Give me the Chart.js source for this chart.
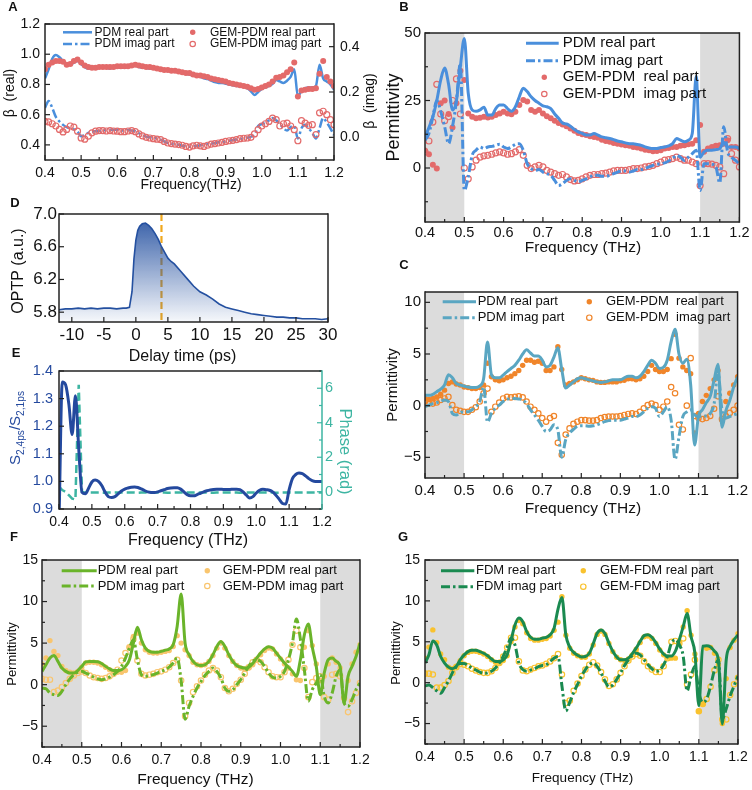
<!DOCTYPE html>
<html>
<head>
<meta charset="utf-8">
<script src="https://cdn.jsdelivr.net/npm/chart.js@4.4.1/dist/chart.umd.min.js"></script>
<style>
body{margin:0;background:#fff;width:752px;height:790px;position:relative;overflow:hidden}
canvas{position:absolute;left:0;top:0}
</style>
</head>
<body>
<canvas id="cA" width="752" height="790"></canvas>
<canvas id="cB" width="752" height="790"></canvas>
<canvas id="cC" width="752" height="790"></canvas>
<canvas id="cD" width="752" height="790"></canvas>
<canvas id="cE" width="752" height="790"></canvas>
<canvas id="cF" width="752" height="790"></canvas>
<canvas id="cG" width="752" height="790"></canvas>
<script>
// ---- data ----
const freq = [0.40,0.41,0.42,0.43,0.44,0.45,0.46,0.47,0.48,0.49,0.50,
  0.51,0.52,0.53,0.54,0.55,0.56,0.57,0.58,0.59,0.60,
  0.61,0.62,0.63,0.64,0.65,0.66,0.67,0.68,0.69,0.70,
  0.71,0.72,0.73,0.74,0.75,0.76,0.77,0.78,0.79,0.80,
  0.81,0.82,0.83,0.84,0.85,0.86,0.87,0.88,0.89,0.90,
  0.91,0.92,0.93,0.94,0.95,0.96,0.97,0.98,0.99,1.00,
  1.01,1.02,1.03,1.04,1.05,1.06,1.07,1.08,1.09,1.10,
  1.11,1.12,1.13,1.14,1.15,1.16,1.17,1.18,1.19,1.20];
const freqTicks = [0.4,0.5,0.6,0.7,0.8,0.9,1.0,1.1,1.2];

// A: beta
const aRealPDM = [0.84,0.90,0.97,0.995,0.98,0.955,0.935,0.93,0.945,0.955,0.935,
  0.915,0.905,0.905,0.905,0.91,0.91,0.91,0.905,0.91,0.915,
  0.91,0.91,0.915,0.92,0.925,0.915,0.91,0.91,0.905,0.905,
  0.90,0.895,0.89,0.89,0.885,0.885,0.88,0.875,0.87,0.865,
  0.86,0.855,0.85,0.84,0.835,0.825,0.815,0.81,0.81,0.805,
  0.80,0.795,0.79,0.79,0.785,0.775,0.755,0.73,0.75,0.77,
  0.78,0.79,0.805,0.83,0.82,0.81,0.825,0.85,0.90,0.72,
  0.76,0.775,0.78,0.78,0.79,0.93,0.84,0.82,0.80,0.765];
const aImagPDM = [0.13,0.16,0.13,0.09,0.07,0.055,0.045,0.04,0.035,0.025,0.005,
  0.01,0.02,0.025,0.027,0.028,0.03,0.032,0.033,0.034,0.033,
  0.03,0.03,0.032,0.03,0.027,0.018,0.01,0.003,0.0,-0.002,
  -0.005,-0.01,-0.018,-0.025,-0.028,-0.03,-0.033,-0.037,-0.04,-0.042,
  -0.04,-0.037,-0.035,-0.033,-0.03,-0.028,-0.025,-0.022,-0.02,-0.018,
  -0.015,-0.012,-0.01,-0.007,-0.005,-0.002,0.003,0.01,0.05,0.058,
  0.065,0.075,0.085,0.075,0.06,0.04,0.03,0.045,0.05,-0.005,
  0.04,0.055,0.04,0.02,-0.005,0.04,0.085,0.065,0.04,0.01];
const aRealGEM = [0.90,0.93,0.945,0.955,0.955,0.95,0.93,0.935,0.955,0.965,0.945,
  0.925,0.915,0.91,0.91,0.915,0.915,0.915,0.915,0.915,0.92,
  0.92,0.92,0.92,0.925,0.93,0.925,0.92,0.915,0.915,0.91,
  0.905,0.90,0.895,0.895,0.89,0.89,0.885,0.88,0.875,0.875,
  0.865,0.86,0.86,0.855,0.85,0.84,0.835,0.83,0.825,0.82,
  0.81,0.805,0.80,0.795,0.79,0.785,0.775,0.765,0.77,0.78,
  0.79,0.80,0.82,0.845,0.85,0.86,0.88,0.90,0.945,0.72,
  0.76,0.765,0.77,0.77,0.775,0.87,0.955,0.85,0.82,0.79];
const aImagGEM = [0.07,0.068,0.06,0.05,0.035,0.024,0.035,0.05,0.045,0.027,-0.003,
  -0.008,0.005,0.02,0.027,0.03,0.03,0.028,0.03,0.028,0.027,
  0.025,0.025,0.028,0.03,0.025,0.015,0.006,0.0,-0.003,-0.006,
  -0.008,-0.01,-0.018,-0.025,-0.028,-0.03,-0.032,-0.035,-0.04,-0.043,
  -0.038,-0.035,-0.038,-0.04,-0.035,-0.03,-0.028,-0.025,-0.022,-0.018,
  -0.015,-0.013,-0.01,-0.006,-0.004,-0.003,0.0,0.015,0.034,0.05,
  0.06,0.07,0.085,0.078,0.05,0.06,0.063,0.05,0.034,-0.015,
  0.074,0.063,0.053,0.056,0.012,0.108,0.115,0.1,0.078,0.056];

// B: permittivity PDM
const bRealPDM = [11.5,15,19,25,32.6,37,31,21.5,25,37.6,48,
  27.7,21.5,21,21.5,22.5,19.6,19.6,22,23.3,23.3,
  22,21,22.7,26.4,29.5,28.3,26.4,25,24,23,
  22.7,22,20,18.4,16.7,16.3,15.5,14.3,13.4,12.8,
  12.2,12.2,12.8,12.2,11.5,11.2,10.9,10.5,10,9.7,
  9.3,9,9,8.7,8.4,7.8,7.4,7.2,7.2,7.6,
  7.8,8.2,9,10.9,10.3,9.7,10.3,12.8,34,4,
  6,6.6,6.6,6.8,7.2,9.5,7.8,7.8,7.8,7.2];
const bImagPDM = [10.3,12.8,19,25,21,15.3,9,15.3,25,38.8,-8.3,
  -3.3,4.7,6.6,7.8,7.2,7.8,8,8.4,8.8,7.8,
  7.2,7.8,8.8,9,6.6,1.6,-0.2,-0.9,-0.6,-1.5,
  -2.1,-2.7,-4.6,-6.5,-5.8,-4.6,-4,-4.6,-5.2,-4.6,
  -4,-3.3,-2.7,-2.7,-3.1,-3.1,-2.7,-2.1,-1.5,-1.1,
  -1.1,-1.5,-1.1,-0.6,-0.6,-0.2,0.4,1,1.4,1.6,
  1.9,2.6,3.5,4.7,4,2.8,4,5.3,6.6,-8.3,
  1.6,1.6,1.4,0.5,-5.5,15.3,6,4,2.8,1.6];
const bRealGEM = [6.5,5.1,1.2,-0.2,24,25,20,15,24,36,32.6,
  20.2,19,18.4,18.6,19,18.7,19,19.6,20.2,20.8,
  20.2,19.9,20.8,23.3,25.2,24.6,21.5,20.8,21.5,20.2,
  19.2,18.4,17.5,16.7,16.1,15.5,14.6,13.8,13,12.5,
  12.2,11.8,11.5,11.2,10.5,10,9.7,9.3,9,8.7,
  8.4,8.2,7.8,7.6,7.2,6.8,6.6,6.2,6.3,6.6,
  7.2,7.4,7.8,7.8,8.2,8.4,8.8,9,10.3,15.9,
  6,7.2,7.8,8.2,8.4,9,10.3,7.8,7.8,7.2];
const bImagGEM = [6,10,17,31,20,17.5,19,25,33,20,0,
  -4,0.4,2.9,4,4.5,4.7,5.1,5.6,6,5.6,
  5.1,5.3,6,6.8,4.7,1,-0.2,0.4,1,0.4,
  -0.9,-1.5,-2.1,-2.7,-2.4,-3.3,-4.3,-4.8,-4.6,-4,
  -3.3,-2.7,-2.4,-2.4,-2.1,-1.9,-1.5,-1.1,-0.9,-0.9,
  -0.9,-0.6,-0.2,-0.2,0,0.4,0.6,1,1.6,2.2,
  2.9,3.1,3.5,4,3.5,2.9,2.9,2.2,1.6,-6.5,
  1.6,1.6,1.4,1,0.4,-2.1,10.9,5.3,2.9,0.4];

// C: permittivity PDM (second sample)
const cRealPDM = [1.0,1.0,1.1,1.35,1.6,2.0,3.0,2.7,2.15,2.0,1.9,
  1.8,1.75,1.75,1.9,2.6,6.15,3.0,2.7,2.7,2.95,
  3.3,3.6,3.9,4.4,5.0,5.4,5.1,4.8,4.8,4.4,
  3.75,3.9,4.7,5.6,3.5,1.7,2.0,2.3,2.6,2.7,
  2.6,2.5,2.4,2.3,2.25,2.3,2.4,2.5,2.5,2.5,
  2.7,2.85,2.85,2.7,2.85,3.3,3.9,4.4,4.1,3.6,
  3.7,4.4,6.2,7.4,5.0,4.1,4.5,2.0,-3.8,-1.0,
  -0.4,0.3,0.9,2.5,4.0,-2.1,-0.5,0.5,1.8,2.8];
const cImagPDM = [-0.1,0.05,0.2,0.3,0.4,0.55,0.4,-0.75,-0.9,-0.65,-0.6,
  -0.6,-0.4,-0.1,0.4,1.8,-1.6,-0.75,-0.25,0.05,0.4,
  0.6,0.7,0.7,0.65,0.55,0.2,-0.4,-0.9,-1.4,-2.0,
  -2.5,-2.35,-1.85,-2.35,-5.0,-3.3,-2.65,-2.3,-2.0,-1.95,
  -1.95,-2.0,-1.95,-1.85,-1.7,-1.55,-1.45,-1.4,-1.4,-1.4,
  -1.3,-1.2,-1.05,-1.05,-0.9,-0.6,-0.25,-0.1,-0.25,-1.05,
  -0.6,-0.1,-1.4,-5.2,-3.0,-1.05,-0.6,-0.4,-0.9,-1.05,
  -1.0,-1.0,-0.75,0.2,3.2,-0.4,-1.2,-1.05,-0.9,-0.75];
const cRealGEM = [0.7,0.6,0.7,0.85,1.1,1.5,2.15,2.3,2.1,2.0,1.8,
  1.75,1.65,1.65,1.75,2.0,4.1,2.8,2.5,2.4,2.5,
  2.7,2.85,3.1,3.4,3.9,4.4,4.4,4.2,4.3,4.1,
  3.4,3.4,3.75,5.7,3.5,2.0,2.15,2.3,2.5,2.7,
  2.6,2.5,2.45,2.3,2.25,2.25,2.3,2.3,2.3,2.4,
  2.45,2.6,2.6,2.5,2.6,2.85,3.3,3.9,3.5,3.3,
  3.3,3.5,4.55,6.9,4.6,3.75,3.4,3.1,-2.65,-0.75,
  0.4,1.0,1.65,2.5,3.4,-1.4,0.4,1.2,2.0,2.8];
const cImagGEM = [0.4,0.2,0.2,0.3,0.55,0.7,0.85,0.05,-0.4,-0.5,-0.6,
  -0.6,-0.4,-0.15,0.4,1.2,1.65,-0.6,-0.1,0.3,0.7,
  0.85,0.8,0.85,0.9,0.8,0.4,-0.1,-0.4,-0.75,-1.2,
  -1.55,-1.2,-1.0,-3.6,-4.75,-2.8,-2.2,-1.75,-1.55,-1.4,
  -1.4,-1.45,-1.45,-1.4,-1.2,-1.1,-1.05,-1.05,-1.05,-1.0,
  -0.9,-0.8,-0.75,-0.8,-0.6,-0.25,0.05,0.2,0.05,-0.4,
  -0.1,0.4,1.8,1.2,-1.85,-2.3,0.0,4.6,-1.0,-1.2,
  -1.3,-1.2,-1.0,-0.3,0.9,-1.3,-1.0,-0.7,-0.4,0.0];

// D: OPTP trace
const dTime = [-12,-11,-10,-9,-8,-7,-6,-5,-4,-3,-2,-1.5,-1,-0.6,-0.3,
  0,0.3,0.6,1,1.5,2,2.5,3,3.5,4,4.5,5,5.5,6,
  7,8,9,10,11,12,13,14,15,16,17,18,19,20,21,22,23,24,25,26,27,28,29,30];
const dOptp = [5.83,5.84,5.84,5.85,5.84,5.85,5.84,5.85,5.85,5.84,5.85,5.85,5.86,6.05,6.45,
  6.68,6.8,6.85,6.88,6.89,6.86,6.82,6.76,6.69,6.6,6.53,6.46,6.42,6.39,
  6.3,6.21,6.12,6.05,6.01,5.96,5.9,5.86,5.84,5.82,5.8,5.78,5.77,5.76,5.75,5.74,5.74,5.73,5.73,5.72,5.72,5.72,5.71,5.72];
const dMarker = 4;

// E: spectral ratio and phase
const eRatio = [0.85,1.36,1.35,1.28,1.17,1.31,1.12,0.96,0.955,0.975,0.998,
  1.005,1.0,0.985,0.962,0.945,0.942,0.945,0.955,0.965,0.972,
  0.976,0.979,0.98,0.978,0.973,0.967,0.962,0.96,0.96,0.962,
  0.966,0.97,0.974,0.976,0.977,0.977,0.972,0.962,0.952,0.948,
  0.948,0.952,0.957,0.962,0.966,0.969,0.971,0.972,0.972,0.971,
  0.971,0.971,0.972,0.972,0.97,0.962,0.95,0.94,0.945,0.958,
  0.968,0.972,0.97,0.968,0.962,0.95,0.935,0.92,0.918,0.97,
  1.01,1.025,1.03,1.028,1.02,1.01,1.003,1.0,1.0,1.0];
const ePhase = [0.3,0.1,0.0,-0.2,-0.4,-0.45,6.2,0.0,-0.05,-0.05,-0.05,
  -0.05,-0.05,-0.06,-0.06,-0.05,-0.05,-0.05,-0.04,-0.04,-0.05,
  -0.05,-0.05,-0.05,-0.06,-0.05,-0.05,-0.05,-0.05,-0.04,-0.05,
  -0.05,-0.05,-0.06,-0.06,-0.05,-0.05,-0.05,-0.05,-0.05,-0.05,
  -0.05,-0.04,-0.05,-0.05,-0.05,-0.05,-0.06,-0.05,-0.05,-0.05,
  -0.05,-0.05,-0.05,-0.05,-0.06,-0.06,-0.05,-0.05,-0.05,-0.05,
  -0.05,-0.05,-0.05,-0.05,-0.05,-0.06,-0.06,-0.05,-0.05,-0.05,
  -0.05,-0.05,-0.05,-0.05,-0.05,-0.05,-0.05,-0.05,-0.05,-0.05];

// F: permittivity PDM (third sample)
const fRealPDM = [1.6,2.4,3.2,3.5,2.8,2.0,1.6,1.4,1.4,1.7,2.2,
  2.75,2.8,2.8,2.75,2.55,2.2,1.9,1.7,1.7,1.8,
  2.2,3.0,5.0,6.9,5.4,4.4,4.0,3.9,3.9,4.0,
  4.15,4.3,4.8,7.0,10.9,5.0,3.6,2.8,2.4,2.3,
  2.4,2.8,3.6,4.6,5.2,4.6,3.6,2.8,2.3,2.1,
  2.0,2.1,2.55,3.2,3.8,4.3,4.55,4.4,3.8,3.2,
  2.6,2.1,1.6,1.0,3.0,6.0,7.3,4.5,2.2,-1.2,
  1.4,3.0,3.2,2.8,2.2,-2.2,1.0,2.2,3.4,5.0];
const fImagPDM = [-0.4,-0.5,-1.0,-1.2,-1.3,-0.8,0.0,0.7,1.2,1.5,1.6,
  1.4,1.2,0.9,0.7,0.6,0.7,0.9,1.2,1.6,2.2,
  3.2,4.4,5.4,3.0,1.2,1.0,1.1,1.2,1.4,1.6,
  1.8,2.1,2.6,3.2,0.5,-4.15,-2.6,-1.4,-0.4,0.4,
  1.1,1.6,2.0,1.6,0.8,-0.4,-0.8,-0.6,0.0,0.6,
  1.4,2.2,2.8,3.0,2.8,2.2,1.4,0.9,0.8,1.0,
  1.6,3.0,5.0,7.9,5.5,1.8,-2.0,-0.6,0.2,1.2,
  -1.4,-2.2,-1.0,1.0,1.8,-2.2,-2.6,-1.8,-0.6,0.2];
const fRealGEM = [2.5,3.2,5.3,4.0,3.5,2.2,1.7,1.5,1.4,1.6,2.1,
  2.6,2.7,2.7,2.6,2.4,2.1,1.8,1.6,1.5,1.5,
  1.7,4.5,5.8,6.2,5.0,4.2,3.9,3.8,3.8,3.9,
  4.0,4.1,4.6,5.9,5.0,4.2,3.5,2.7,2.4,2.3,
  2.4,2.8,3.5,4.4,5.0,4.4,3.5,2.8,2.3,2.0,
  1.9,2.0,2.4,3.0,3.6,4.1,4.4,4.3,3.7,3.1,
  2.5,2.0,1.3,0.6,0.5,4.5,6.5,4.7,2.5,0.5,
  1.0,2.5,3.2,2.7,2.0,-1.5,0.5,2.5,3.9,4.8];
const fImagGEM = [0.7,0.6,0.6,-0.9,-0.7,-0.3,0.2,0.7,1.1,1.4,1.6,
  1.4,1.1,0.9,0.8,0.7,0.8,1.0,1.3,1.8,2.9,
  3.8,4.5,5.5,2.9,1.3,1.1,1.2,1.3,1.5,1.6,
  1.8,2.1,2.6,3.0,0.5,-3.8,-2.2,-0.9,-0.2,0.5,
  1.2,1.7,2.0,1.7,0.9,-0.4,-0.8,-0.5,0.1,0.6,
  1.3,2.1,2.7,3.0,2.7,2.1,1.5,1.0,0.9,0.9,
  1.5,3.0,4.8,6.5,4.5,2.0,-1.5,0.3,0.8,1.0,
  -1.5,-1.8,1.2,1.3,1.0,-1.6,-3.3,-2.0,-1.0,0.2];

// G: permittivity FDM
const gRealFDM = [2.4,3.4,5.1,4.6,3.2,2.4,1.9,1.7,2.0,2.8,3.4,
  3.8,3.95,3.95,3.8,3.6,3.3,2.9,2.6,2.6,2.8,
  3.4,5.2,7.05,7.9,7.45,6.25,5.55,5.3,5.3,5.45,
  5.55,5.85,6.65,9.0,10.4,5.85,4.35,3.7,3.35,3.15,
  3.2,3.6,4.75,6.05,6.45,6.0,4.85,3.85,3.15,2.8,
  2.8,3.0,3.55,4.25,5.05,5.75,5.85,5.55,4.9,4.1,
  3.5,3.25,3.25,3.85,5.25,6.85,8.45,5.65,3.6,-2.8,
  4.45,4.5,4.35,3.85,2.8,-5.05,2.8,4.45,5.25,5.85];
const gImagFDM = [-0.4,-0.3,-0.6,-1.0,-1.3,-0.6,0.2,1.2,1.95,2.35,2.35,
  2.1,1.8,1.55,1.3,1.15,1.2,1.4,1.8,2.4,3.25,
  4.35,5.45,4.6,2.4,1.6,1.4,1.55,1.7,1.95,2.1,
  2.2,2.6,3.0,3.2,-0.4,-3.45,-2.4,-1.2,-0.2,0.8,
  1.6,2.2,2.4,2.0,1.2,0.2,-0.5,-0.3,0.4,1.2,
  2.1,2.8,3.3,3.6,3.4,2.8,2.2,1.7,1.4,1.55,
  2.2,3.25,4.85,5.25,4.65,3.25,-1.0,0.8,2.0,-1.2,
  -2.4,-2.0,-0.4,1.6,2.8,-4.4,-3.2,-1.6,-0.4,0.8];
const gRealGEM = [3.0,4.35,6.45,4.9,3.5,2.8,1.9,1.7,2.0,2.7,3.3,
  3.7,3.85,3.85,3.7,3.5,3.2,2.8,2.5,2.5,2.7,
  3.3,5.0,6.8,7.6,7.2,6.1,5.4,5.2,5.2,5.3,
  5.4,5.7,6.4,7.4,10.5,5.8,4.2,3.6,3.3,3.1,
  3.1,3.5,4.6,5.9,6.3,5.9,4.8,3.8,3.1,2.8,
  2.7,2.9,3.4,4.1,4.9,5.6,5.7,5.4,4.8,4.0,
  3.4,3.1,3.0,3.0,5.0,6.8,8.8,5.8,3.5,-3.5,
  -2.6,4.2,4.3,3.6,2.2,-5.0,0.5,4.3,5.2,6.0];
const gImagGEM = [1.1,1.1,1.0,-0.6,-0.6,-0.3,0.2,1.2,1.9,2.3,2.2,
  2.0,1.7,1.5,1.3,1.2,1.2,1.4,1.8,2.4,3.2,
  4.3,5.5,5.5,2.6,1.5,1.4,1.6,1.8,2.0,2.1,
  2.3,2.6,3.0,3.5,1.0,-2.5,-2.2,-1.0,-0.1,0.8,
  1.6,2.2,2.5,2.1,1.3,0.4,-0.4,-0.2,0.4,1.2,
  2.0,2.7,3.2,3.5,3.3,2.6,2.0,1.6,1.3,1.3,
  2.0,3.0,5.0,5.1,4.8,5.4,-0.2,1.0,2.8,-3.5,
  -2.6,-2.0,-0.5,1.5,2.8,-4.5,-4.5,-1.5,-0.2,0.6];

const shadeBands = [[0.4, 0.5], [1.1, 1.2]];

// ---- drawing helpers ----
const FONT = 'Arial, "Liberation Sans", Helvetica, sans-serif';
Chart.defaults.font.family = FONT;
Chart.defaults.color = '#111';
const DASHDOT = [9, 3, 2.5, 3];

const pts = (xs, ys) => xs.map((x, i) => ({x: x, y: ys[i]}));
const fix1 = v => Number(v).toFixed(1);
const minus = v => v < 0 ? '\u2212' + Math.abs(v) : String(v);

function lineSet(xs, ys, color, extra) {
  return Object.assign({data: pts(xs, ys), borderColor: color, backgroundColor: color,
    borderWidth: 2.5, pointRadius: 0, fill: false, cubicInterpolationMode: 'monotone'}, extra || {});
}
function markSet(xs, ys, color, open, extra) {
  return Object.assign({data: pts(xs, ys), showLine: false, pointRadius: 2.7,
    pointBorderWidth: open ? 1.2 : 0, pointBorderColor: color,
    pointBackgroundColor: open ? 'rgba(255,255,255,0)' : color,
    borderColor: color, backgroundColor: color}, extra || {});
}

function legendSet(s) {
  return [
    {kind: 'line', color: s.line, x1: s.lx[0], x2: s.lx[1], y: s.rows[0], text: s.names[0], tx: s.ltx},
    {kind: 'dash', color: s.line, x1: s.lx[0], x2: s.lx[1], y: s.rows[1], text: s.names[1], tx: s.ltx},
    {kind: 'dot', color: s.mark, x1: s.mx, y: s.rows[s.mrows[0]], text: s.names[2], tx: s.mtx},
    {kind: 'ring', color: s.mark, x1: s.mx, y: s.rows[s.mrows[1]], text: s.names[3], tx: s.mtx}
  ].map(o => Object.assign(o, {size: s.size, w: s.w}));
}

function makeDecor(spec) {
  return {
    id: 'decor',
    beforeDatasetsDraw(chart) {
      const {ctx, chartArea: a} = chart;
      const x = chart.scales.x;
      ctx.save();
      ctx.fillStyle = '#dcdcdc';
      (spec.bands || []).forEach(b => {
        const p1 = x.getPixelForValue(b[0]), p2 = x.getPixelForValue(b[1]);
        ctx.fillRect(p1, a.top, p2 - p1, a.bottom - a.top);
      });
      if (spec.vline) {
        const p = x.getPixelForValue(spec.vline.x);
        ctx.strokeStyle = spec.vline.color; ctx.lineWidth = 2.2; ctx.setLineDash([7, 4]);
        ctx.beginPath(); ctx.moveTo(p, a.top); ctx.lineTo(p, a.bottom); ctx.stroke();
        ctx.setLineDash([]);
      }
      ctx.restore();
    },
    afterDraw(chart) {
      const {ctx, chartArea: a} = chart;
      ctx.save();
      // inward tick marks
      Object.values(chart.scales).forEach(s => {
        const vals = s.ticks.map(t => t.value);
        const step = vals[1] - vals[0];
        ctx.strokeStyle = (spec.tickColor || {})[s.id] || '#222';
        ctx.lineWidth = 1.2;
        const mark = (v, len) => {
          const p = s.getPixelForValue(v);
          ctx.beginPath();
          if (s.position === 'bottom') { ctx.moveTo(p, a.bottom); ctx.lineTo(p, a.bottom - len); }
          else if (s.position === 'left') { ctx.moveTo(a.left, p); ctx.lineTo(a.left + len, p); }
          else { ctx.moveTo(a.right, p); ctx.lineTo(a.right - len, p); }
          ctx.stroke();
        };
        vals.forEach(v => mark(v, 5));
        if ((spec.minor || []).includes(s.id)) {
          for (let v = vals[0] - step / 2; v <= s.max + 1e-9; v += step) {
            if (v >= s.min - 1e-9) mark(v, 3);
          }
        }
      });
      // frame
      ctx.lineWidth = 1.5;
      const edge = (x1, y1, x2, y2, c) => {
        ctx.strokeStyle = c; ctx.beginPath(); ctx.moveTo(x1, y1); ctx.lineTo(x2, y2); ctx.stroke();
      };
      edge(a.left, a.top, a.right, a.top, '#222');
      edge(a.left, a.bottom, a.right, a.bottom, '#222');
      edge(a.left, a.top - 0.75, a.left, a.bottom + 0.75, '#222');
      edge(a.right, a.top - 0.75, a.right, a.bottom + 0.75, spec.rightColor || '#222');
      // legend
      (spec.legend || []).forEach(it => {
        ctx.strokeStyle = it.color; ctx.fillStyle = it.color;
        if (it.kind === 'line' || it.kind === 'dash') {
          ctx.lineWidth = it.w || 2.5;
          ctx.setLineDash(it.kind === 'dash' ? DASHDOT : []);
          ctx.beginPath(); ctx.moveTo(it.x1, it.y); ctx.lineTo(it.x2, it.y); ctx.stroke();
          ctx.setLineDash([]);
        } else {
          ctx.beginPath(); ctx.arc(it.x1, it.y, 2.7, 0, 2 * Math.PI);
          if (it.kind === 'dot') ctx.fill();
          else { ctx.lineWidth = 1.2; ctx.stroke(); }
        }
        ctx.fillStyle = '#111';
        ctx.font = it.size + 'px ' + FONT;
        ctx.textAlign = 'left'; ctx.textBaseline = 'middle';
        ctx.fillText(it.text, it.tx, it.y);
      });
      // titles and panel letters
      (spec.texts || []).forEach(t => {
        ctx.save();
        ctx.translate(t.x, t.y);
        if (t.rot) ctx.rotate(t.rot * Math.PI / 180);
        ctx.fillStyle = t.color || '#111';
        ctx.textBaseline = 'middle'; ctx.textAlign = 'left';
        const parts = t.parts || [[t.text, 0]];
        const fontOf = sub => (t.bold ? 'bold ' : '') + (sub ? t.size * 0.68 : t.size) + 'px ' + FONT;
        let w = 0;
        parts.forEach(p => { ctx.font = fontOf(p[1]); w += ctx.measureText(p[0]).width; });
        let px = -w / 2;
        parts.forEach(p => {
          ctx.font = fontOf(p[1]);
          ctx.fillText(p[0], px, p[1] ? t.size * 0.32 : 0);
          px += ctx.measureText(p[0]).width;
        });
        ctx.restore();
      });
      ctx.restore();
    }
  };
}

function axis(pos, s, fit) {
  return {
    type: 'linear', position: pos, min: s.min, max: s.max,
    afterBuildTicks: sc => { sc.ticks = s.ticks.map(v => ({value: v})); },
    afterFit: fit,
    grid: {display: false, drawTicks: false},
    border: {display: false},
    ticks: {autoSkip: false, maxRotation: 0, padding: s.pad, color: s.color || '#111',
      font: {size: s.size}, callback: s.fmt || (v => String(v))}
  };
}

function panel(id, p) {
  const W = 752, H = 790, a = p.area;
  const lw = 40, bh = 20, rw = p.y2 ? 30 : 0;
  const scales = {
    x: axis('bottom', p.x, s => { s.height = bh; }),
    y: axis('left', p.y, s => { s.width = lw; })
  };
  if (p.y2) scales.y2 = axis('right', p.y2, s => { s.width = rw; });
  return new Chart(document.getElementById(id), {
    type: 'line',
    data: {datasets: p.datasets},
    options: {
      responsive: false, animation: false, devicePixelRatio: 1, events: [],
      layout: {autoPadding: false,
        padding: {left: a.l - lw, top: a.t, right: W - a.r - rw, bottom: H - a.b - bh}},
      plugins: {legend: {display: false}, tooltip: {enabled: false}},
      scales: scales
    },
    plugins: [makeDecor(p.decor)]
  });
}

// ---- panel A ----
const blueA = '#4a8fdc', redA = '#e36a6a';
panel('cA', {
  area: {l: 45, t: 24, r: 334, b: 160},
  x: {min: 0.4, max: 1.2, ticks: freqTicks, fmt: fix1, size: 14, pad: 4.6},
  y: {min: 0.3, max: 1.2, ticks: [0.4, 0.6, 0.8, 1.0, 1.2], fmt: fix1, size: 14, pad: 5},
  y2: {min: -0.1, max: 0.5, ticks: [0.0, 0.2, 0.4], fmt: fix1, size: 14, pad: 6},
  datasets: [
    markSet(freq, aRealGEM, redA, false, {pointRadius: 3}),
    markSet(freq, aImagGEM, redA, true, {yAxisID: 'y2', pointRadius: 3}),
    lineSet(freq, aRealPDM, blueA),
    lineSet(freq, aImagPDM, blueA, {borderDash: DASHDOT, yAxisID: 'y2'})
  ],
  decor: {
    minor: ['x'],
    legend: legendSet({rows: [32.3, 44], mrows: [0, 1], lx: [63, 92], ltx: 94.5, mx: 192.7, mtx: 210,
      size: 12, w: 2.5, line: blueA, mark: redA,
      names: ['PDM real part', 'PDM imag part', 'GEM-PDM real part', 'GEM-PDM imag part']}),
    texts: [
      {text: '\u03b2  (real)', x: 10, y: 93, rot: -90, size: 14},
      {text: '\u03b2  (imag)', x: 370, y: 101, rot: -90, size: 14},
      {text: 'Frequency(THz)', x: 191, y: 185, size: 14},
      {text: 'A', x: 13, y: 7, size: 13, bold: true}
    ]
  }
});

// ---- panel B ----
panel('cB', {
  area: {l: 425, t: 33, r: 743, b: 222},
  x: {min: 0.4, max: 1.2, ticks: freqTicks, fmt: fix1, size: 14.5, pad: 2.5},
  y: {min: -20, max: 50, ticks: [0, 25, 50], size: 15, pad: 4},
  datasets: [
    lineSet(freq, bRealPDM, blueA, {borderWidth: 3}),
    lineSet(freq, bImagPDM, blueA, {borderWidth: 3, borderDash: DASHDOT}),
    markSet(freq, bRealGEM, redA, false, {pointRadius: 3}),
    markSet(freq, bImagGEM, redA, true, {pointRadius: 3})
  ],
  decor: {
    bands: shadeBands, minor: ['x', 'y'],
    legend: legendSet({rows: [43.3, 60.7, 77.3, 94], mrows: [2, 3], lx: [526, 558.7], ltx: 562.7,
      mx: 544.3, mtx: 562.7, size: 15, w: 3, line: blueA, mark: redA,
      names: ['PDM real part', 'PDM imag part', 'GEM-PDM  real part', 'GEM-PDM  imag part']}),
    texts: [
      {text: 'Permittivity', x: 394, y: 117.5, rot: -90, size: 18},
      {text: 'Frequency (THz)', x: 583, y: 248, size: 15.5},
      {text: 'B', x: 404, y: 7, size: 13, bold: true}
    ]
  }
});

// ---- panel C ----
const blueC = '#5aa6c2', orangeC = '#f0852a';
panel('cC', {
  area: {l: 425, t: 292, r: 743, b: 478},
  x: {min: 0.4, max: 1.2, ticks: freqTicks, fmt: fix1, size: 15, pad: 4},
  y: {min: -7, max: 11, ticks: [-5, 0, 5, 10], fmt: minus, size: 15, pad: 4},
  datasets: [
    lineSet(freq, cRealPDM, blueC, {borderWidth: 3}),
    lineSet(freq, cImagPDM, blueC, {borderWidth: 3, borderDash: DASHDOT}),
    markSet(freq, cRealGEM, orangeC, false),
    markSet(freq, cImagGEM, orangeC, true)
  ],
  decor: {
    bands: shadeBands, minor: ['x', 'y'],
    legend: legendSet({rows: [301.7, 317.7], mrows: [0, 1], lx: [442.7, 476], ltx: 477.7,
      mx: 589.3, mtx: 606, size: 13, w: 3, line: blueC, mark: orangeC,
      names: ['PDM real part', 'PDM imag part', 'GEM-PDM  real part', 'GEM-PDM  imag part']}),
    texts: [
      {text: 'Permittivity', x: 392.5, y: 385, rot: -90, size: 15},
      {text: 'Frequency (THz)', x: 583, y: 509, size: 15.5},
      {text: 'C', x: 404, y: 265, size: 13, bold: true}
    ]
  }
});

// ---- panel D ----
const blueD = '#2450a0';
panel('cD', {
  area: {l: 59, t: 214, r: 328, b: 322},
  x: {min: -12, max: 30, ticks: [-10, -5, 0, 5, 10, 15, 20, 25, 30], size: 17, pad: 3.5},
  y: {min: 5.68, max: 7.0, ticks: [5.8, 6.2, 6.6, 7.0], fmt: fix1, size: 17, pad: 2},
  datasets: [
    lineSet(dTime, dOptp, blueD, {borderWidth: 1.6, cubicInterpolationMode: 'default', fill: 'start',
      backgroundColor: c => {
        const ca = c.chart.chartArea;
        if (!ca) return 'rgba(36,80,160,0.4)';
        const g = c.chart.ctx.createLinearGradient(0, ca.top, 0, ca.bottom);
        g.addColorStop(0, 'rgba(36,80,160,0.95)');
        g.addColorStop(1, 'rgba(36,80,160,0.04)');
        return g;
      }})
  ],
  decor: {
    vline: {x: dMarker, color: '#f0a81e'},
    texts: [
      {text: 'OPTP (a.u.)', x: 19, y: 271, rot: -90, size: 16},
      {text: 'Delay time (ps)', x: 182.5, y: 357, size: 16},
      {text: 'D', x: 15, y: 203, size: 13, bold: true}
    ]
  }
});

// ---- panel E ----
const blueE = '#24499e', tealE = '#3db5a2';
panel('cE', {
  area: {l: 59, t: 371, r: 322, b: 509},
  x: {min: 0.4, max: 1.2, ticks: freqTicks, fmt: fix1, size: 14, pad: 5},
  y: {min: 0.9, max: 1.4, ticks: [0.9, 1.0, 1.1, 1.2, 1.3, 1.4], fmt: fix1, size: 14.5, pad: 6, color: blueE},
  y2: {min: -1, max: 7, ticks: [0, 2, 4, 6], size: 14.5, pad: 3, color: tealE},
  datasets: [
    lineSet(freq, eRatio, blueE, {borderWidth: 3}),
    lineSet(freq, ePhase, tealE, {borderWidth: 2.5, borderDash: [8, 4], yAxisID: 'y2', cubicInterpolationMode: 'default'})
  ],
  decor: {
    minor: ['x', 'y2'], tickColor: {y2: tealE}, rightColor: tealE,
    texts: [
      {parts: [['S', 0], ['2,4ps', 1], ['/S', 0], ['2,1ps', 1]], x: 16, y: 428, rot: -90, size: 15, color: blueE},
      {text: 'Phase (rad)', x: 345, y: 451.5, rot: 90, size: 16.5, color: tealE},
      {text: 'Frequency (THz)', x: 188, y: 541, size: 16},
      {text: 'E', x: 16, y: 353, size: 13, bold: true}
    ]
  }
});

// ---- panel F ----
const greenF = '#6ab42a', yellowF = '#f9c56e';
panel('cF', {
  area: {l: 42, t: 560, r: 360, b: 747},
  x: {min: 0.4, max: 1.2, ticks: freqTicks, fmt: fix1, size: 14, pad: 4.6},
  y: {min: -7.5, max: 15, ticks: [-5, 0, 5, 10, 15], fmt: minus, size: 14, pad: 4},
  datasets: [
    lineSet(freq, fRealPDM, greenF, {borderWidth: 3}),
    lineSet(freq, fImagPDM, greenF, {borderWidth: 3, borderDash: DASHDOT}),
    markSet(freq, fRealGEM, yellowF, false),
    markSet(freq, fImagGEM, yellowF, true)
  ],
  decor: {
    bands: shadeBands, minor: ['x', 'y'],
    legend: legendSet({rows: [570.7, 586], mrows: [0, 1], lx: [61.7, 96.7], ltx: 97.7,
      mx: 207.3, mtx: 222.7, size: 13, w: 3, line: greenF, mark: yellowF,
      names: ['PDM real part', 'PDM imag part', 'GEM-PDM real part', 'GEM-PDM imag part']}),
    texts: [
      {text: 'Permittivity', x: 12, y: 654, rot: -90, size: 13},
      {text: 'Frequency (THz)', x: 195.5, y: 780, size: 15.5},
      {text: 'F', x: 14, y: 537, size: 13, bold: true}
    ]
  }
});

// ---- panel G ----
const greenG = '#1a8a50', yellowG = '#f9c22e';
panel('cG', {
  area: {l: 425, t: 560, r: 739, b: 744},
  x: {min: 0.4, max: 1.2, ticks: freqTicks, fmt: fix1, size: 14, pad: 4.3},
  y: {min: -7.5, max: 15, ticks: [-5, 0, 5, 10, 15], fmt: minus, size: 14, pad: 5},
  datasets: [
    lineSet(freq, gRealFDM, greenG, {borderWidth: 3}),
    lineSet(freq, gImagFDM, greenG, {borderWidth: 3, borderDash: DASHDOT}),
    markSet(freq, gRealGEM, yellowG, false),
    markSet(freq, gImagGEM, yellowG, true)
  ],
  decor: {
    bands: shadeBands, minor: ['x', 'y'],
    legend: legendSet({rows: [570.7, 586.7], mrows: [0, 1], lx: [441, 474.3], ltx: 476,
      mx: 583.3, mtx: 600, size: 13, w: 3, line: greenG, mark: yellowG,
      names: ['FDM real part', 'FDM imag part', 'GEM-FDM real part', 'GEM-FDM imag part']}),
    texts: [
      {text: 'Permittivity', x: 396, y: 653, rot: -90, size: 13},
      {text: 'Frequency (THz)', x: 582.5, y: 778, size: 13.5},
      {text: 'G', x: 403, y: 537, size: 13, bold: true}
    ]
  }
});
</script>
</body>
</html>
